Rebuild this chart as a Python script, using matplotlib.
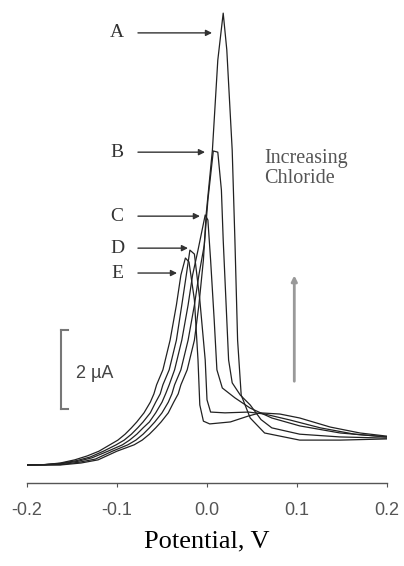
import numpy as np
import matplotlib
matplotlib.use("Agg")
import matplotlib.pyplot as plt

# potential (V) and current (uA), curves A..E
vA = [-0.200, -0.180, -0.163, -0.140, -0.121, -0.100, -0.081, -0.072, -0.064, -0.057, -0.051, -0.043,
      -0.037, -0.032, -0.029, -0.022, -0.014, -0.009, -0.004, -0.001, 0.006, 0.012, 0.018, 0.022,
      0.028, 0.031, 0.034, 0.038, 0.048, 0.064, 0.103, 0.148, 0.200]
iA = [0.00, 0.00, 0.00, 0.05, 0.13, 0.35, 0.51, 0.63, 0.78, 0.94, 1.09, 1.32,
      1.59, 1.80, 2.03, 2.41, 3.16, 4.05, 5.19, 6.33, 7.97, 10.25, 11.44, 10.51,
      7.97, 5.70, 3.16, 1.77, 1.19, 0.81, 0.63, 0.63, 0.66]

vB = [-0.200, -0.180, -0.163, -0.142, -0.124, -0.105, -0.088, -0.079, -0.071, -0.064, -0.058, -0.050,
      -0.043, -0.039, -0.036, -0.029, -0.021, -0.014, -0.009, -0.003, 0.001, 0.007, 0.012, 0.016,
      0.018, 0.021, 0.024, 0.028, 0.037, 0.048, 0.060, 0.072, 0.103, 0.148, 0.200]
iB = [0.00, 0.00, 0.01, 0.07, 0.15, 0.35, 0.51, 0.63, 0.78, 0.94, 1.09, 1.32,
      1.59, 1.80, 2.03, 2.41, 3.16, 4.05, 4.81, 5.57, 6.71, 7.95, 7.92, 6.96,
      5.70, 4.18, 2.66, 2.08, 1.77, 1.52, 1.15, 0.94, 0.78, 0.71, 0.68]

vC = [-0.200, -0.180, -0.163, -0.144, -0.128, -0.110, -0.094, -0.086, -0.078, -0.071, -0.064, -0.057,
      -0.050, -0.046, -0.042, -0.036, -0.028, -0.021, -0.016, -0.010, -0.002, 0.001, 0.004, 0.008,
      0.011, 0.017, 0.031, 0.048, 0.072, 0.103, 0.148, 0.200]
iC = [0.00, 0.01, 0.03, 0.09, 0.18, 0.35, 0.51, 0.63, 0.78, 0.94, 1.09, 1.32,
      1.59, 1.80, 2.03, 2.41, 3.16, 4.05, 4.81, 5.44, 6.33, 6.20, 5.19, 3.67,
      2.41, 1.95, 1.70, 1.44, 1.19, 0.99, 0.81, 0.71]

vD = [-0.200, -0.180, -0.163, -0.145, -0.130, -0.115, -0.101, -0.092, -0.084, -0.077, -0.071, -0.063,
      -0.057, -0.052, -0.049, -0.042, -0.034, -0.028, -0.023, -0.019, -0.014, -0.008, -0.002, 0.000,
      0.004, 0.020, 0.046, 0.064, 0.092, 0.126, 0.164, 0.200]
iD = [0.00, 0.01, 0.04, 0.11, 0.20, 0.35, 0.51, 0.63, 0.78, 0.94, 1.09, 1.32,
      1.59, 1.80, 2.03, 2.41, 3.16, 4.05, 4.81, 5.44, 5.34, 4.18, 2.66, 1.65,
      1.34, 1.32, 1.34, 1.29, 1.14, 0.94, 0.78, 0.71]

vE = [-0.200, -0.180, -0.163, -0.147, -0.133, -0.120, -0.108, -0.099, -0.091, -0.084, -0.078, -0.070,
      -0.063, -0.059, -0.056, -0.049, -0.041, -0.034, -0.029, -0.024, -0.020, -0.014, -0.010, -0.008,
      -0.004, 0.003, 0.026, 0.046, 0.059, 0.081, 0.103, 0.137, 0.170, 0.200]
iE = [0.00, 0.01, 0.05, 0.13, 0.23, 0.35, 0.51, 0.63, 0.78, 0.94, 1.09, 1.32,
      1.59, 1.80, 2.03, 2.41, 3.16, 4.05, 4.81, 5.24, 5.14, 4.18, 2.66, 1.52,
      1.11, 1.04, 1.09, 1.24, 1.32, 1.29, 1.19, 0.96, 0.81, 0.73]

labels = ['A', 'B', 'C', 'D', 'E']
label_y = [10.94, 7.92, 6.30, 5.49, 4.86]
label_tip = [0.0056, -0.0022, -0.0078, -0.0211, -0.0333]

xticks = [-0.2, -0.1, 0.0, 0.1, 0.2]
xticklabels = ['-0.2', '-0.1', '0.0', '0.1', '0.2']

W, H = 404, 566
fig = plt.figure(figsize=(W / 100, H / 100), dpi=100)
ax = fig.add_axes([27 / W, (H - 483) / H, 360 / W, 478 / H])

for v, i in [(vA, iA), (vB, iB), (vC, iC), (vD, iD), (vE, iE)]:
    ax.plot(v, i, color='#222222', lw=0.9)

ax.set_xlim(-0.2, 0.2)
ax.set_ylim(-0.456, 11.646)

for s in ['top', 'right', 'left']:
    ax.spines[s].set_visible(False)
ax.spines['bottom'].set_color('#555555')
ax.spines['bottom'].set_linewidth(1.0)
ax.set_yticks([])
ax.set_xticks(xticks)
ax.set_xticklabels(xticklabels, family='Liberation Sans', fontsize=13, color='#555555')
ax.tick_params(axis='x', direction='out', length=3, width=0.8, color='#555555', pad=11)
ax.set_xlabel('Potential, V', family='Liberation Serif', fontsize=19, labelpad=8)

# labels with arrows
for lab, y, tip in zip(labels, label_y, label_tip):
    ax.text(-0.100, y, lab, family='Liberation Serif', fontsize=14, color='#333333',
            ha='center', va='center')
    ax.annotate('', xy=(tip, y), xytext=(-0.0767, y),
                arrowprops=dict(arrowstyle='-|>', color='#333333', lw=1.0,
                                mutation_scale=9, shrinkA=0, shrinkB=0))

# increasing chloride arrow
ax.text(0.064, 7.5, 'Increasing\nChloride', family='Liberation Serif', fontsize=14.5,
        color='#555555', ha='left', va='center', linespacing=1.1)
ax.annotate('', xy=(0.097, 4.8), xytext=(0.097, 2.12),
            arrowprops=dict(arrowstyle='-|>', color='#999999', lw=2.0,
                            mutation_scale=8, shrinkA=0, shrinkB=0))

# 2 uA scale bar
sb_x, sb_y0 = -0.162, 1.42
ax.plot([sb_x, sb_x], [sb_y0, sb_y0 + 2], color='#777777', lw=1.5)
ax.plot([sb_x, sb_x + 0.008], [sb_y0, sb_y0], color='#777777', lw=1.5)
ax.plot([sb_x, sb_x + 0.008], [sb_y0 + 2, sb_y0 + 2], color='#777777', lw=1.5)
ax.text(-0.146, 2.32, '2 \u00b5A', family='Liberation Sans', fontsize=13,
        color='#444444', ha='left', va='center')

fig.savefig('out.png', dpi=100)
